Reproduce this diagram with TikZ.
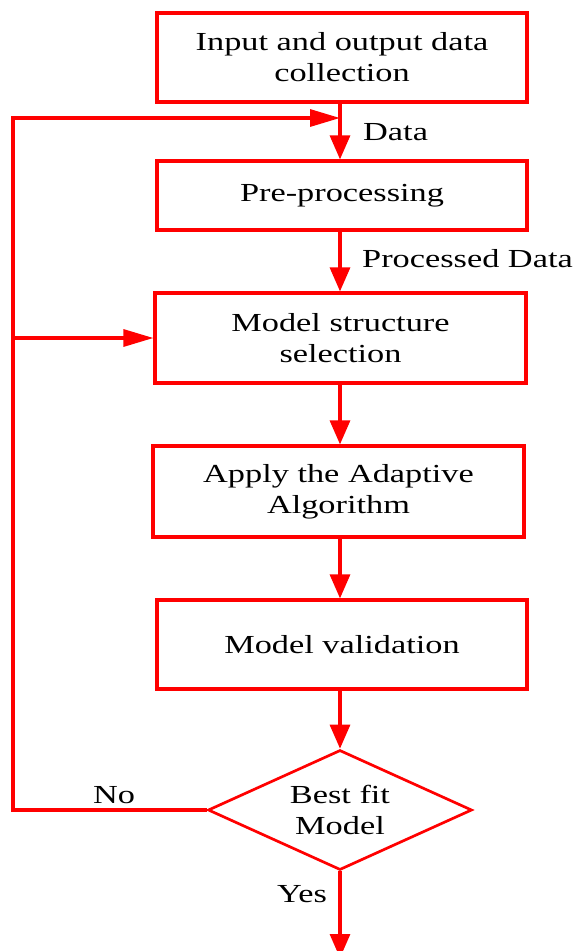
\documentclass[tikz,border=0pt]{standalone}
\usepackage{fontspec}
\setmainfont[FakeStretch=1.32]{Liberation Serif}
\usetikzlibrary{shapes.geometric,arrows.meta}

\begin{document}
\begin{tikzpicture}[x=1pt,y=-1pt,
  txt/.style={font=\fontsize{26}{31}\selectfont},
  box/.style={txt, draw=red, line width=3.2pt, minimum width=370pt,
    inner sep=0pt, align=center},
  decision/.style={txt, diamond, draw=red, line width=2.7pt, aspect=2.2,
    minimum width=264pt, minimum height=120pt, inner sep=0pt, align=center},
  lbl/.style={txt, inner sep=0pt},
  wire/.style={red, line width=3.2pt},
  vflow/.style={wire, -{Triangle[length=24pt,width=20pt]}},
  hflow/.style={wire, -{Triangle[length=30pt,width=17pt]}},
  ]
\useasboundingbox (0,0) rectangle (577,951);
\clip (0,0) rectangle (577,951);

% process steps
\node[box, minimum height=89pt] (b1) at (342,57.5) {Input and output data\\collection};
\node[box, minimum height=69pt] (b2) at (342,195.5) {Pre-processing};
\node[box, minimum width=371pt, minimum height=90pt] (b3) at (340.5,338) {Model structure\\selection};
\node[box, minimum width=371pt, minimum height=91pt] (b4) at (338.5,491.5) {Apply the Adaptive\\Algorithm};
\node[box, minimum height=89pt] (b5) at (342,644.5) {Model validation};
\node[decision] (d) at (340,810) {Best fit\\Model};

% helper coordinates: main spine, feedback rail, re-entry point, exit
\coordinate (sp) at (340,0);
\coordinate (lx) at (13,0);
\coordinate (ret) at (340,118);
\coordinate (out) at (340,958);

% main flow
\draw[vflow] (b1.south -| sp) -- (b2.north -| sp);
\draw[vflow] (b2.south -| sp) -- (b3.north -| sp);
\draw[vflow] (b3.south -| sp) -- (b4.north -| sp);
\draw[vflow] (b4.south -| sp) -- (b5.north -| sp);
\draw[vflow] (b5.south -| sp) -- (d.north);
\draw[vflow] (d.south) -- (out);

% feedback loop
\draw[hflow] (d.west) -- (d.west -| lx) -- (ret -| lx) -- (ret);
\draw[hflow] (b3.west -| lx) -- (b3.west);

% labels
\node[lbl, anchor=base west] (tdata) at (363,140) {Data};
\node[lbl, anchor=base west] (tproc) at (362,267) {Processed Data};
\node[lbl, anchor=base] (tno) at (114,803) {No};
\node[lbl, anchor=base] (tyes) at (302,902) {Yes};
\end{tikzpicture}
\end{document}
